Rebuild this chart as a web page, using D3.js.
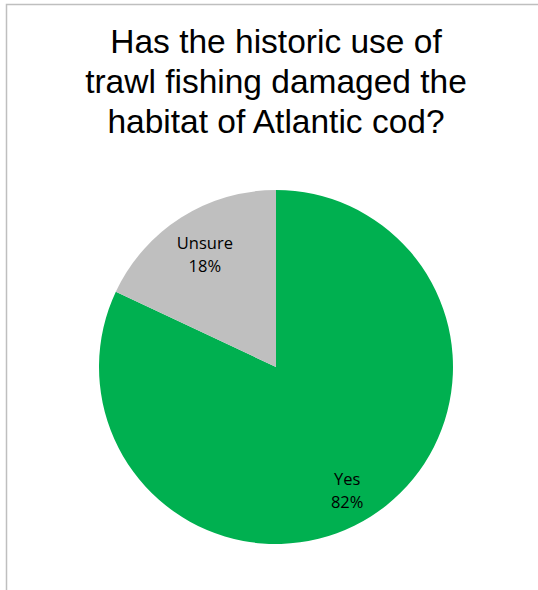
<!DOCTYPE html>
<html><head><meta charset="utf-8">
<script src="https://cdn.jsdelivr.net/npm/d3@7"></script>
<style>html,body{margin:0;padding:0;background:#fff;}svg{display:block;}</style>
</head><body>
<svg id="chart" width="538" height="590"></svg>
<script>
const categories = ["Yes", "Unsure"];
const values = [82, 18];
const colors = ["#00B050", "#BFBFBF"];
const titleLines = ["Has the historic use of", "trawl fishing damaged the", "habitat of Atlantic cod?"];

const svg = d3.select("#chart");
svg.append("rect").attr("x", 6.5).attr("y", 4.5).attr("width", 560).attr("height", 620)
  .attr("fill", "#fff").attr("stroke", "#BFBFBF").attr("stroke-width", 1.5);

svg.append("g").selectAll("text").data(titleLines).join("text")
  .attr("x", 276).attr("y", (d, i) => 53 + i * 40)
  .attr("text-anchor", "middle")
  .style("font-family", "'Liberation Sans', Arial, sans-serif")
  .attr("font-size", 33.5).attr("fill", "#000")
  .text(d => d);

const cx = 276, cy = 367, r = 177;
const data = categories.map((c, i) => ({ cat: c, value: values[i], color: colors[i] }));
const pie = d3.pie().value(d => d.value).sort(null);
const arc = d3.arc().innerRadius(0).outerRadius(r);
const g = svg.append("g").attr("transform", `translate(${cx},${cy})`);
const arcs = pie(data);
g.selectAll("path").data(arcs).join("path")
  .attr("d", arc).attr("fill", d => d.data.color);

const lg = g.selectAll("g.lbl").data(arcs).join("g").attr("class", "lbl")
  .attr("transform", d => {
    const a = (d.startAngle + d.endAngle) / 2;
    const x = Math.sin(a) * r * 0.75;
    const y = -Math.cos(a) * r * 0.79;
    return `translate(${x},${y})`;
  });
const lblFont = "'Open Sans', 'Noto Sans', sans-serif";
lg.append("text").attr("text-anchor", "middle").attr("y", 0)
  .style("font-family", lblFont).attr("font-size", 16.5).attr("fill", "#000")
  .text(d => d.data.cat);
lg.append("text").attr("text-anchor", "middle").attr("y", 23)
  .style("font-family", lblFont).attr("font-size", 16.5).attr("fill", "#000")
  .text(d => d.data.value + "%");
</script>
</body></html>
